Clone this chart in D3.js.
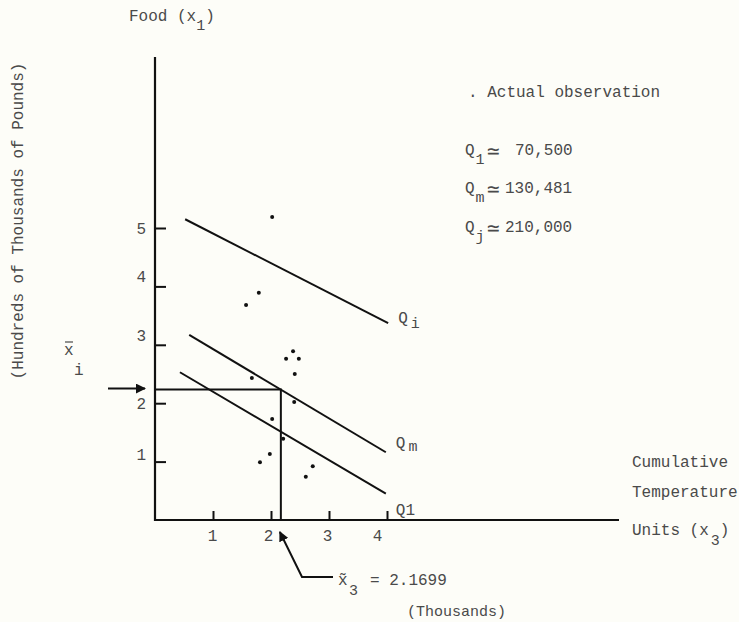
<!DOCTYPE html>
<html>
<head>
<meta charset="utf-8">
<script src="https://cdn.jsdelivr.net/npm/d3@7"></script>
<style>
  html, body { margin: 0; padding: 0; background: #fdfdf8; }
  svg { display: block; }
  text { font-family: "Liberation Mono", "DejaVu Sans Mono", monospace; fill: #4a4a4a; font-size: 16px; }
</style>
</head>
<body>
<svg id="chart" width="739" height="622"></svg>
<script>
// ---------------------------
// Data
// ---------------------------

// axis ticks: x3 = cumulative temperature units (thousands), x1 = food (100,000 lb)
const xTickValues = [1, 2, 3, 4];
const yTickValues = [1, 2, 3, 4, 5];

// actual observations
const obsX3 = [2.02, 1.79, 1.57, 2.38, 2.26, 2.48, 2.41, 1.67, 2.40, 2.02, 2.21, 1.98, 1.81, 2.60, 2.72];
const obsX1 = [5.19, 3.89, 3.68, 2.89, 2.76, 2.76, 2.50, 2.43, 2.02, 1.73, 1.39, 1.13, 0.99, 0.74, 0.92];

// iso-quantity lines, start and end points
const isoNames = ["Q", "Q", "Q1"];
const isoSubs = ["i", "m", ""];
const isoX3 = [[0.52, 4.02], [0.59, 3.98], [0.43, 3.98]];
const isoX1 = [[5.15, 3.37], [3.17, 1.16], [2.53, 0.45]];

// legend
const legendSubs = ["1", "m", "j"];
const legendValues = ["70,500", "130,481", "210,000"];

const x3Optimal = 2.1699;

// ---------------------------
// Layout
// ---------------------------

// typewriter labels sit a little off their ticks
const xLabelNudge = [-1, -3, -2, -10];
const yLabelNudge = [-8, 0, -10, -10, 0];
const isoLabelDy = [0, -4, 21];
const legendBaseY = [155, 193, 232];
const legendValueX = [515, 505, 505];

const svg = d3.select("#chart");

const x = d3.scaleLinear().domain([0, 4]).range([155, 387]);
const y = d3.scaleLinear().domain([0, 5]).range([520, 228]);

const defs = svg.append("defs");
defs.append("marker")
  .attr("id", "head")
  .attr("viewBox", "0 0 10 10")
  .attr("refX", 9)
  .attr("refY", 5)
  .attr("markerWidth", 5)
  .attr("markerHeight", 5)
  .attr("markerUnits", "strokeWidth")
  .attr("orient", "auto")
  .append("path")
  .attr("d", "M0,0 L10,5 L0,10 z")
  .attr("fill", "#111");

// helper: text with a subscript part
function subText(g, px, py, main, sub, after, opts = {}) {
  const t = g.append("text").attr("x", px).attr("y", py);
  if (opts.size) t.style("font-size", opts.size + "px");
  t.append("tspan").text(main);
  if (sub) {
    t.append("tspan")
      .attr("dx", opts.subDx || 0)
      .attr("dy", opts.subDy || 8)
      .style("font-size", (opts.subSize || 15) + "px")
      .text(sub);
  }
  if (after) {
    t.append("tspan").attr("dy", -(opts.subDy || 8)).text(after);
  }
  return t;
}

// ---------------------------
// Axes
// ---------------------------

const axisG = svg.append("g");

axisG.append("line")
  .attr("x1", x(0)).attr("x2", x(0))
  .attr("y1", 57).attr("y2", y(0) + 1)
  .attr("stroke", "#111").attr("stroke-width", 2.2);

axisG.append("line")
  .attr("x1", x(0) - 1).attr("x2", 619)
  .attr("y1", y(0)).attr("y2", y(0))
  .attr("stroke", "#111").attr("stroke-width", 2.2);

const xAxisG = svg.append("g")
  .attr("transform", `translate(0,${y(0)})`)
  .call(d3.axisBottom(x).tickValues(xTickValues).tickSize(-9).tickPadding(10).tickFormat(d3.format("d")));
xAxisG.select(".domain").remove();
xAxisG.selectAll(".tick line").attr("stroke", "#111").attr("stroke-width", 2);
xAxisG.selectAll(".tick text")
  .attr("font-family", null).attr("font-size", null).attr("fill", null)
  .attr("dx", (d, i) => xLabelNudge[i]);

const yAxisG = svg.append("g")
  .attr("transform", `translate(${x(0)},0)`)
  .call(d3.axisLeft(y).tickValues(yTickValues).tickSize(-11).tickPadding(9).tickFormat(d3.format("d")));
yAxisG.select(".domain").remove();
yAxisG.selectAll(".tick line").attr("stroke", "#111").attr("stroke-width", 2);
yAxisG.selectAll(".tick text")
  .attr("font-family", null).attr("font-size", null).attr("fill", null)
  .attr("dy", (d, i) => (yLabelNudge[i] + 5.5) + "px");

// ---------------------------
// Iso-quantity lines
// ---------------------------

const isoG = svg.append("g");
isoNames.forEach((name, i) => {
  isoG.append("line")
    .attr("x1", x(isoX3[i][0])).attr("y1", y(isoX1[i][0]))
    .attr("x2", x(isoX3[i][1])).attr("y2", y(isoX1[i][1]))
    .attr("stroke", "#111").attr("stroke-width", 2);
  subText(isoG, x(isoX3[i][1]) + 10, y(isoX1[i][1]) + isoLabelDy[i], name, isoSubs[i], null,
    { subDx: 3, subDy: isoSubs[i] === "m" ? 3 : 5, subSize: 15 });
});

// ---------------------------
// Optimum guide lines
// ---------------------------

// x1 on the Qm line at the optimal x3
const qm = 1;
const slope = (isoX1[qm][1] - isoX1[qm][0]) / (isoX3[qm][1] - isoX3[qm][0]);
const x1Optimal = isoX1[qm][0] + slope * (x3Optimal - isoX3[qm][0]);

const guideG = svg.append("g");
guideG.append("polyline")
  .attr("points", [[x(0), y(x1Optimal)], [x(x3Optimal), y(x1Optimal)], [x(x3Optimal), y(0)]].join(" "))
  .attr("fill", "none").attr("stroke", "#111").attr("stroke-width", 2);

// left arrow pointing at x1 bar
guideG.append("line")
  .attr("x1", 108).attr("x2", 145)
  .attr("y1", y(x1Optimal) - 1).attr("y2", y(x1Optimal) - 1)
  .attr("stroke", "#111").attr("stroke-width", 2)
  .attr("marker-end", "url(#head)");

// bottom arrow pointing at x3 optimum
guideG.append("polyline")
  .attr("points", [[333, 577], [302, 577], [x(x3Optimal) - 1, 532]].join(" "))
  .attr("fill", "none").attr("stroke", "#111").attr("stroke-width", 2)
  .attr("marker-end", "url(#head)");

// ---------------------------
// Observations
// ---------------------------

svg.append("g")
  .selectAll("circle")
  .data(obsX3.map((v, i) => ({ x3: v, x1: obsX1[i] })))
  .join("circle")
  .attr("cx", d => x(d.x3))
  .attr("cy", d => y(d.x1))
  .attr("r", 2)
  .attr("fill", "#111");

// ---------------------------
// Text
// ---------------------------

const textG = svg.append("g");

subText(textG, 129, 21, "Food (x", "1", ")", { subDy: 9 });

textG.append("text")
  .attr("transform", "translate(23,221) rotate(-90)")
  .attr("text-anchor", "middle")
  .text("(Hundreds of Thousands of Pounds)");

// x1 bar label
textG.append("line")
  .attr("x1", 65).attr("x2", 73).attr("y1", 342).attr("y2", 342)
  .attr("stroke", "#4a4a4a").attr("stroke-width", 1.2);
textG.append("text").attr("x", 64).attr("y", 355).text("x");
textG.append("text").attr("x", 74).attr("y", 375).text("i");

textG.append("text").attr("x", 468).attr("y", 97).text(". Actual observation");

legendValues.forEach((v, i) => {
  const t = textG.append("text").attr("x", 465).attr("y", legendBaseY[i]);
  t.append("tspan").text("Q");
  t.append("tspan").attr("dx", 1).attr("dy", 9).style("font-size", "15px").text(legendSubs[i]);
  t.append("tspan").attr("x", 487).attr("dy", -6).style("font-size", "21px").text("\u2243");
  t.append("tspan").attr("x", legendValueX[i]).attr("dy", -3).text(v);
});

textG.append("text").attr("x", 632).attr("y", 467).text("Cumulative");
textG.append("text").attr("x", 632).attr("y", 497).text("Temperature");
subText(textG, 632, 535, "Units (x", "3", ")", { subDx: 2, subDy: 10 });

// x3 optimum label
textG.append("text").attr("x", 338).attr("y", 585).text("x\u0303");
textG.append("text").attr("x", 349).attr("y", 595).style("font-size", "15px").text("3");
textG.append("text").attr("x", 370).attr("y", 585).text("= 2.1699");
textG.append("text").attr("x", 407).attr("y", 616).style("font-size", "15px").text("(Thousands)");
</script>
</body>
</html>
